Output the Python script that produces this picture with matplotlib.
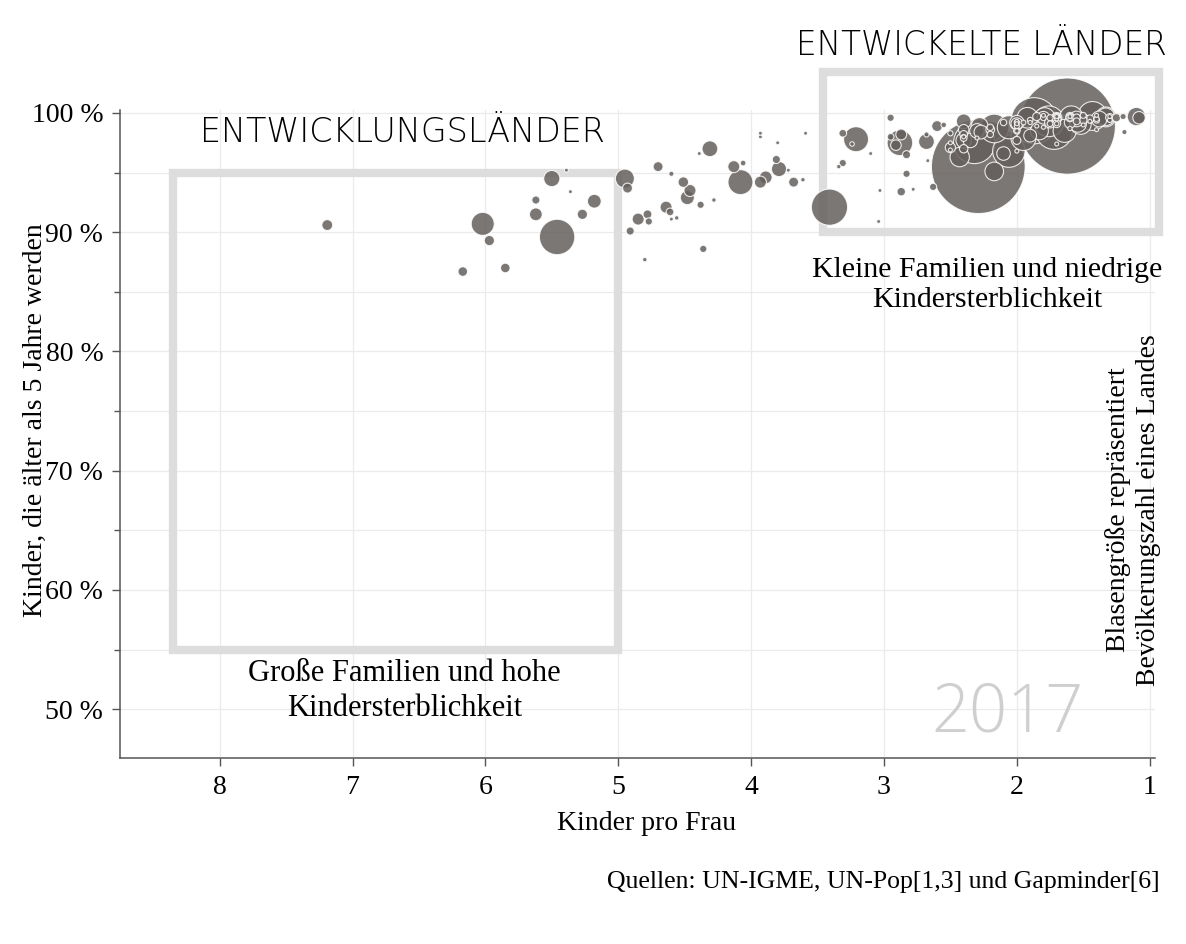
import matplotlib
matplotlib.use('Agg')
import matplotlib.pyplot as plt
from matplotlib.patches import Rectangle
from matplotlib.ticker import MultipleLocator, FuncFormatter
import numpy as np

# Kinder pro Frau (x-Achse)
kinder_pro_frau = [
    7.19, 6.02, 5.97, 6.17, 5.85, 5.46, 5.62, 5.62, 5.50, 5.39, 5.36, 5.27, 5.18,
    4.95, 4.93, 4.70, 4.60, 4.51, 4.46, 4.48, 4.38, 4.28, 4.31, 4.39, 4.64, 4.61,
    4.60, 4.56, 4.78, 4.77, 4.85, 4.91, 4.80, 4.36, 3.93, 3.93, 3.80, 3.59, 4.13,
    4.06, 4.08, 3.93, 3.89, 3.81, 3.79, 3.72, 3.68, 3.61, 3.41,
    2.95, 3.31, 3.21, 3.24, 3.10, 3.31, 3.34, 3.03, 3.04, 2.88, 2.95, 2.87, 2.91,
    2.83, 2.83, 2.87, 2.78, 2.68, 2.68, 2.67, 2.63,
    2.29, 1.62, 1.87, 2.32, 1.72, 2.06, 1.76, 2.17, 1.43, 1.95, 1.59, 1.64, 2.06,
    1.52, 1.79, 1.92, 1.33, 2.43, 2.17, 1.10, 1.83, 1.33, 2.28, 1.54, 1.38, 1.55,
    2.40, 2.40, 2.35, 2.30, 2.00, 2.27, 2.10, 1.90, 1.80, 1.08, 2.00, 1.60, 2.60,
    1.75, 1.70, 2.40, 2.50, 1.70, 1.70, 1.30, 2.20, 2.40, 1.60, 1.25, 1.85, 2.00,
    1.45, 1.60, 1.70, 2.40, 1.50, 1.55, 1.50, 2.40, 1.55, 2.20, 2.00, 2.20, 2.10,
    1.20, 1.75, 1.50, 1.40, 1.70, 1.75, 1.90, 1.80, 2.55, 2.00, 2.50, 1.40, 1.19,
    2.00, 1.95, 1.30, 1.60, 1.70, 1.60, 2.00, 1.90, 1.50, 1.60, 1.70, 2.00, 1.70,
    1.60, 1.40, 1.30, 2.50, 2.00, 2.50, 1.70, 1.40, 2.40, 2.30, 2.00, 1.45, 1.85,
    1.80, 1.80,
]

# Kinder, die älter als 5 Jahre werden, in % (y-Achse)
ueberleben = [
    90.6, 90.7, 89.3, 86.7, 87.0, 89.6, 91.5, 92.7, 94.5, 95.2, 93.4, 91.5, 92.6,
    94.5, 93.7, 95.5, 94.9, 94.2, 93.5, 92.9, 92.3, 92.7, 97.0, 96.6, 92.1, 91.7,
    91.1, 91.2, 91.5, 90.9, 91.1, 90.1, 87.7, 88.6, 98.3, 98.0, 97.5, 98.3, 95.5,
    95.8, 94.2, 94.2, 94.6, 96.1, 95.3, 95.2, 94.2, 94.4, 92.1,
    99.6, 98.3, 97.8, 97.4, 96.6, 95.8, 95.5, 93.5, 90.9, 97.5, 98.0, 98.2, 97.3,
    96.5, 94.9, 93.4, 93.6, 97.6, 98.2, 96.0, 93.8,
    95.5, 98.9, 99.35, 97.5, 98.5, 96.8, 99.3, 98.7, 99.75, 97.9, 99.62, 98.5, 98.8,
    99.1, 99.57, 99.6, 99.67, 96.3, 95.1, 99.7, 98.5, 99.68, 98.9, 99.1, 99.5, 99.5,
    97.7, 99.3, 97.7, 98.5, 99.2, 98.4, 96.6, 98.1, 99.6, 99.6, 99.1, 99.2, 98.9,
    99.2, 99.6, 98.6, 97.1, 99.5, 99.6, 99.6, 98.6, 97.0, 99.7, 99.6, 99.7, 97.7,
    99.5, 99.6, 99.1, 98.2, 99.6, 99.6, 99.4, 97.9, 99.3, 98.8, 98.5, 98.2, 99.2,
    99.7, 99.6, 99.8, 99.4, 99.7, 99.1, 99.4, 99.6, 99.0, 99.2, 98.3, 99.5, 98.4,
    98.9, 99.2, 99.4, 98.7, 99.1, 99.5, 98.5, 99.2, 99.0, 99.8, 99.5, 99.3, 97.4,
    99.7, 98.6, 99.7, 97.5, 96.8, 96.9, 99.7, 99.8, 98.0, 97.9, 99.1, 99.3, 98.9,
    99.8, 98.8,
]

# Bevölkerung in Millionen (Blasengröße)
bevoelkerung = [
    18, 81, 16, 14, 14, 191, 25, 10, 40, 2, 2, 16, 29,
    55, 15, 15, 4, 17, 22, 30, 8, 3, 38, 1, 22, 9,
    2, 3, 12, 8, 22, 10, 3, 8, 0.2, 1, 0.3, 0.1, 22,
    5, 95, 22, 25, 10, 35, 2, 15, 3, 200,
    8, 9, 95, 3, 1, 8, 3, 2, 2, 100, 7, 18, 17,
    10, 8, 11, 1, 38, 4, 2, 8,
    1340, 1410, 325, 264, 209, 160, 144, 125, 127, 95, 82, 81, 81,
    69, 66, 65, 60, 57, 53, 51, 49, 47, 44, 44, 38, 37,
    36, 33, 32, 32, 31, 29, 28, 25, 24.5, 23.6, 21, 19.6, 18,
    18, 17, 16.6, 16, 11.3, 11.4, 10.7, 11.5, 10.8, 10.6, 10.3, 10, 9.8,
    9.7, 9.5, 9.4, 9.3, 8.8, 8.5, 8.8, 6.8, 7, 6.4, 6.4, 6.2, 6.1,
    5.7, 5.7, 5.5, 5.4, 5.3, 4.9, 4.7, 4.8, 4.6, 4.1, 4.1, 4.1, 4.0,
    3.9, 3.5, 3.5, 2.9, 2.9, 2.8, 2.9, 2.6, 2.1, 2.1, 1.9, 1.5, 1.4,
    1.3, 1.3, 1.2, 0.9, 0.8, 0.8, 0.6, 0.6, 0.6, 0.5, 0.4, 0.4, 0.4,
    0.3, 0.3,
]

x_ticks = [8, 7, 6, 5, 4, 3, 2, 1]
y_ticks = [50, 60, 70, 80, 90, 100]

serif = ['Liberation Serif', 'DejaVu Serif']
plt.rcParams['font.family'] = serif

tfr = np.array(kinder_pro_frau)
surv = np.array(ueberleben)
pop = np.array(bevoelkerung)
order = np.argsort(-pop)
sizes = np.maximum(pop * 3.4, 8)

W, H = 1186, 944
fig = plt.figure(figsize=(W / 100, H / 100), dpi=100)
ax = fig.add_axes([120 / W, 1 - 758 / H, (1155 - 120) / W, (758 - 110) / H])

ax.set_xlim(8.75, 0.96)
ax.set_ylim(45.9, 100.25)

# Gitter
ax.set_xticks(x_ticks)
ax.set_yticks(y_ticks)
ax.yaxis.set_minor_locator(MultipleLocator(5))
ax.grid(True, which='major', color='#ebebeb', lw=0.9, zorder=0)
ax.grid(True, which='minor', axis='y', color='#ebebeb', lw=0.9, zorder=0)
ax.set_axisbelow(True)

for s in ['top', 'right']:
    ax.spines[s].set_visible(False)
for s in ['left', 'bottom']:
    ax.spines[s].set_color('#555555')
    ax.spines[s].set_linewidth(1.1)

ax.tick_params(which='major', length=6, width=1, color='#555555', labelsize=20, pad=6)
ax.tick_params(which='minor', length=4, width=1, color='#555555')
ax.tick_params(axis='x', which='minor', bottom=False)
ax.yaxis.set_major_formatter(FuncFormatter(lambda v, p: f'{v:.0f} %'))

# Kästen
ax.add_patch(Rectangle((5.0, 55), 3.35, 40, fill=False, ec='#dddddd', lw=6, zorder=1))
ax.add_patch(Rectangle((0.93, 90), 2.53, 13.4, fill=False, ec='#dddddd', lw=6,
                       zorder=1, clip_on=False))

# Blasen
ax.scatter(tfr[order], surv[order], s=sizes[order], c='#645f5c', alpha=0.85,
           edgecolors='white', linewidths=0.8, zorder=3, clip_on=False)

# Beschriftungen
ax.text(8.15, 98.4, 'ENTWICKLUNGSLÄNDER', ha='left', va='center', fontsize=24,
        family='DejaVu Sans', fontweight='light', color='black')
ax.text(2.27, 105.7, 'ENTWICKELTE LÄNDER', ha='center', va='center', fontsize=23.5,
        family='DejaVu Sans', fontweight='light', color='black', clip_on=False)
ax.text(2.22, 85.6, 'Kleine Familien und niedrige\nKindersterblichkeit', ha='center',
        va='center', fontsize=21.5, linespacing=1.2)
ax.text(6.61, 51.5, 'Große Familien und hohe\nKindersterblichkeit', ha='center',
        va='center', fontsize=22, linespacing=1.25)
ax.text(2.07, 49.6, '2017', ha='center', va='center', fontsize=48, color='#cfcfcf',
        family=['Open Sans', 'DejaVu Sans'], fontweight='light')

fig.text(35 / W, 1 - 420 / H, 'Kinder, die älter als 5 Jahre werden', rotation=90,
         ha='center', va='center', fontsize=20)
fig.text(647 / W, 1 - 823 / H, 'Kinder pro Frau', ha='center', va='center', fontsize=20)
fig.text(1133 / W, 1 - 510 / H, 'Blasengröße repräsentiert\nBevölkerungszahl eines Landes',
         rotation=90, ha='center', va='center', multialignment='center', fontsize=20,
         linespacing=1.25)
fig.text(1160 / W, 1 - 882 / H, 'Quellen: UN-IGME, UN-Pop[1,3] und Gapminder[6]',
         ha='right', va='center', fontsize=18.5)

fig.savefig('out.png', dpi=100, facecolor='white')
